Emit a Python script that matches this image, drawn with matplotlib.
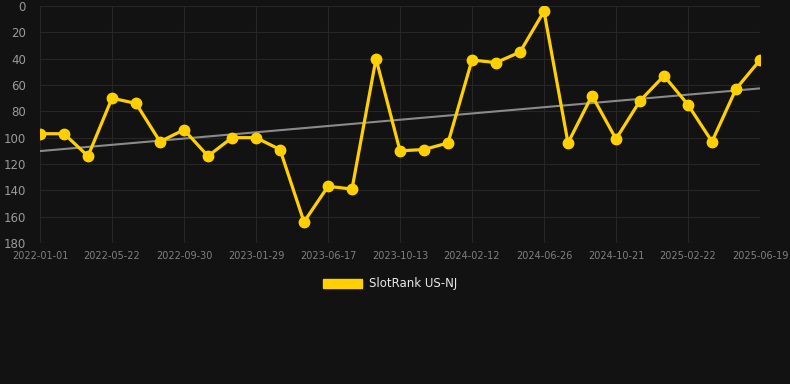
import matplotlib
matplotlib.use("Agg")
import matplotlib.pyplot as plt
import numpy as np
from matplotlib.patches import Patch

tick_labels = ["2022-01-01", "2022-05-22", "2022-09-30", "2023-01-29", "2023-06-17",
               "2023-10-13", "2024-02-12", "2024-06-26", "2024-10-21", "2025-02-22",
               "2025-06-19"]
ranks = [97, 97, 114, 70, 74, 103, 94, 114, 100, 100,
         109, 164, 137, 139, 40, 110, 109, 104, 41, 43,
         35, 4, 104, 68, 101, 72, 53, 75, 103, 63, 41]
series_name = "SlotRank US-NJ"

bg = "#121212"
fig = plt.figure(figsize=(7.9, 3.84), dpi=100, facecolor=bg)
ax = fig.add_axes([40/790, 1-243/384, 720/790, 237/384], facecolor=bg)

x = np.arange(len(ranks))
coef = np.polyfit(x, ranks, 1)
ax.plot(x, np.polyval(coef, x), color="#8a8a8a", lw=1.5, zorder=2)
ax.plot(x, ranks, color="#FFD000", lw=2.3, marker="o", markersize=7.5, zorder=3)

ax.set_xlim(0, len(ranks) - 1)
ax.set_ylim(180, 0)
ax.set_yticks(np.arange(0, 181, 20))
ax.set_xticks(x[::3])
ax.set_xticklabels(tick_labels)
ax.grid(True, color="#262626", lw=0.8)
ax.set_axisbelow(True)
for s in ax.spines.values():
    s.set_visible(False)
ax.tick_params(axis="y", colors="#9a9a9a", labelsize=8.5, length=0, pad=10)
ax.tick_params(axis="x", colors="#808080", labelsize=7, length=0, pad=6)

leg = fig.legend(handles=[Patch(facecolor="#FFD000", edgecolor="#FFD000", label=series_name)],
                 loc="center", bbox_to_anchor=(390/790, 1-284/384), frameon=False,
                 fontsize=8.5, handlelength=3.3, handleheight=0.9, handletextpad=0.6)
for t in leg.get_texts():
    t.set_color("#e8e8e8")

fig.savefig("out.png", dpi=100, facecolor=bg)
